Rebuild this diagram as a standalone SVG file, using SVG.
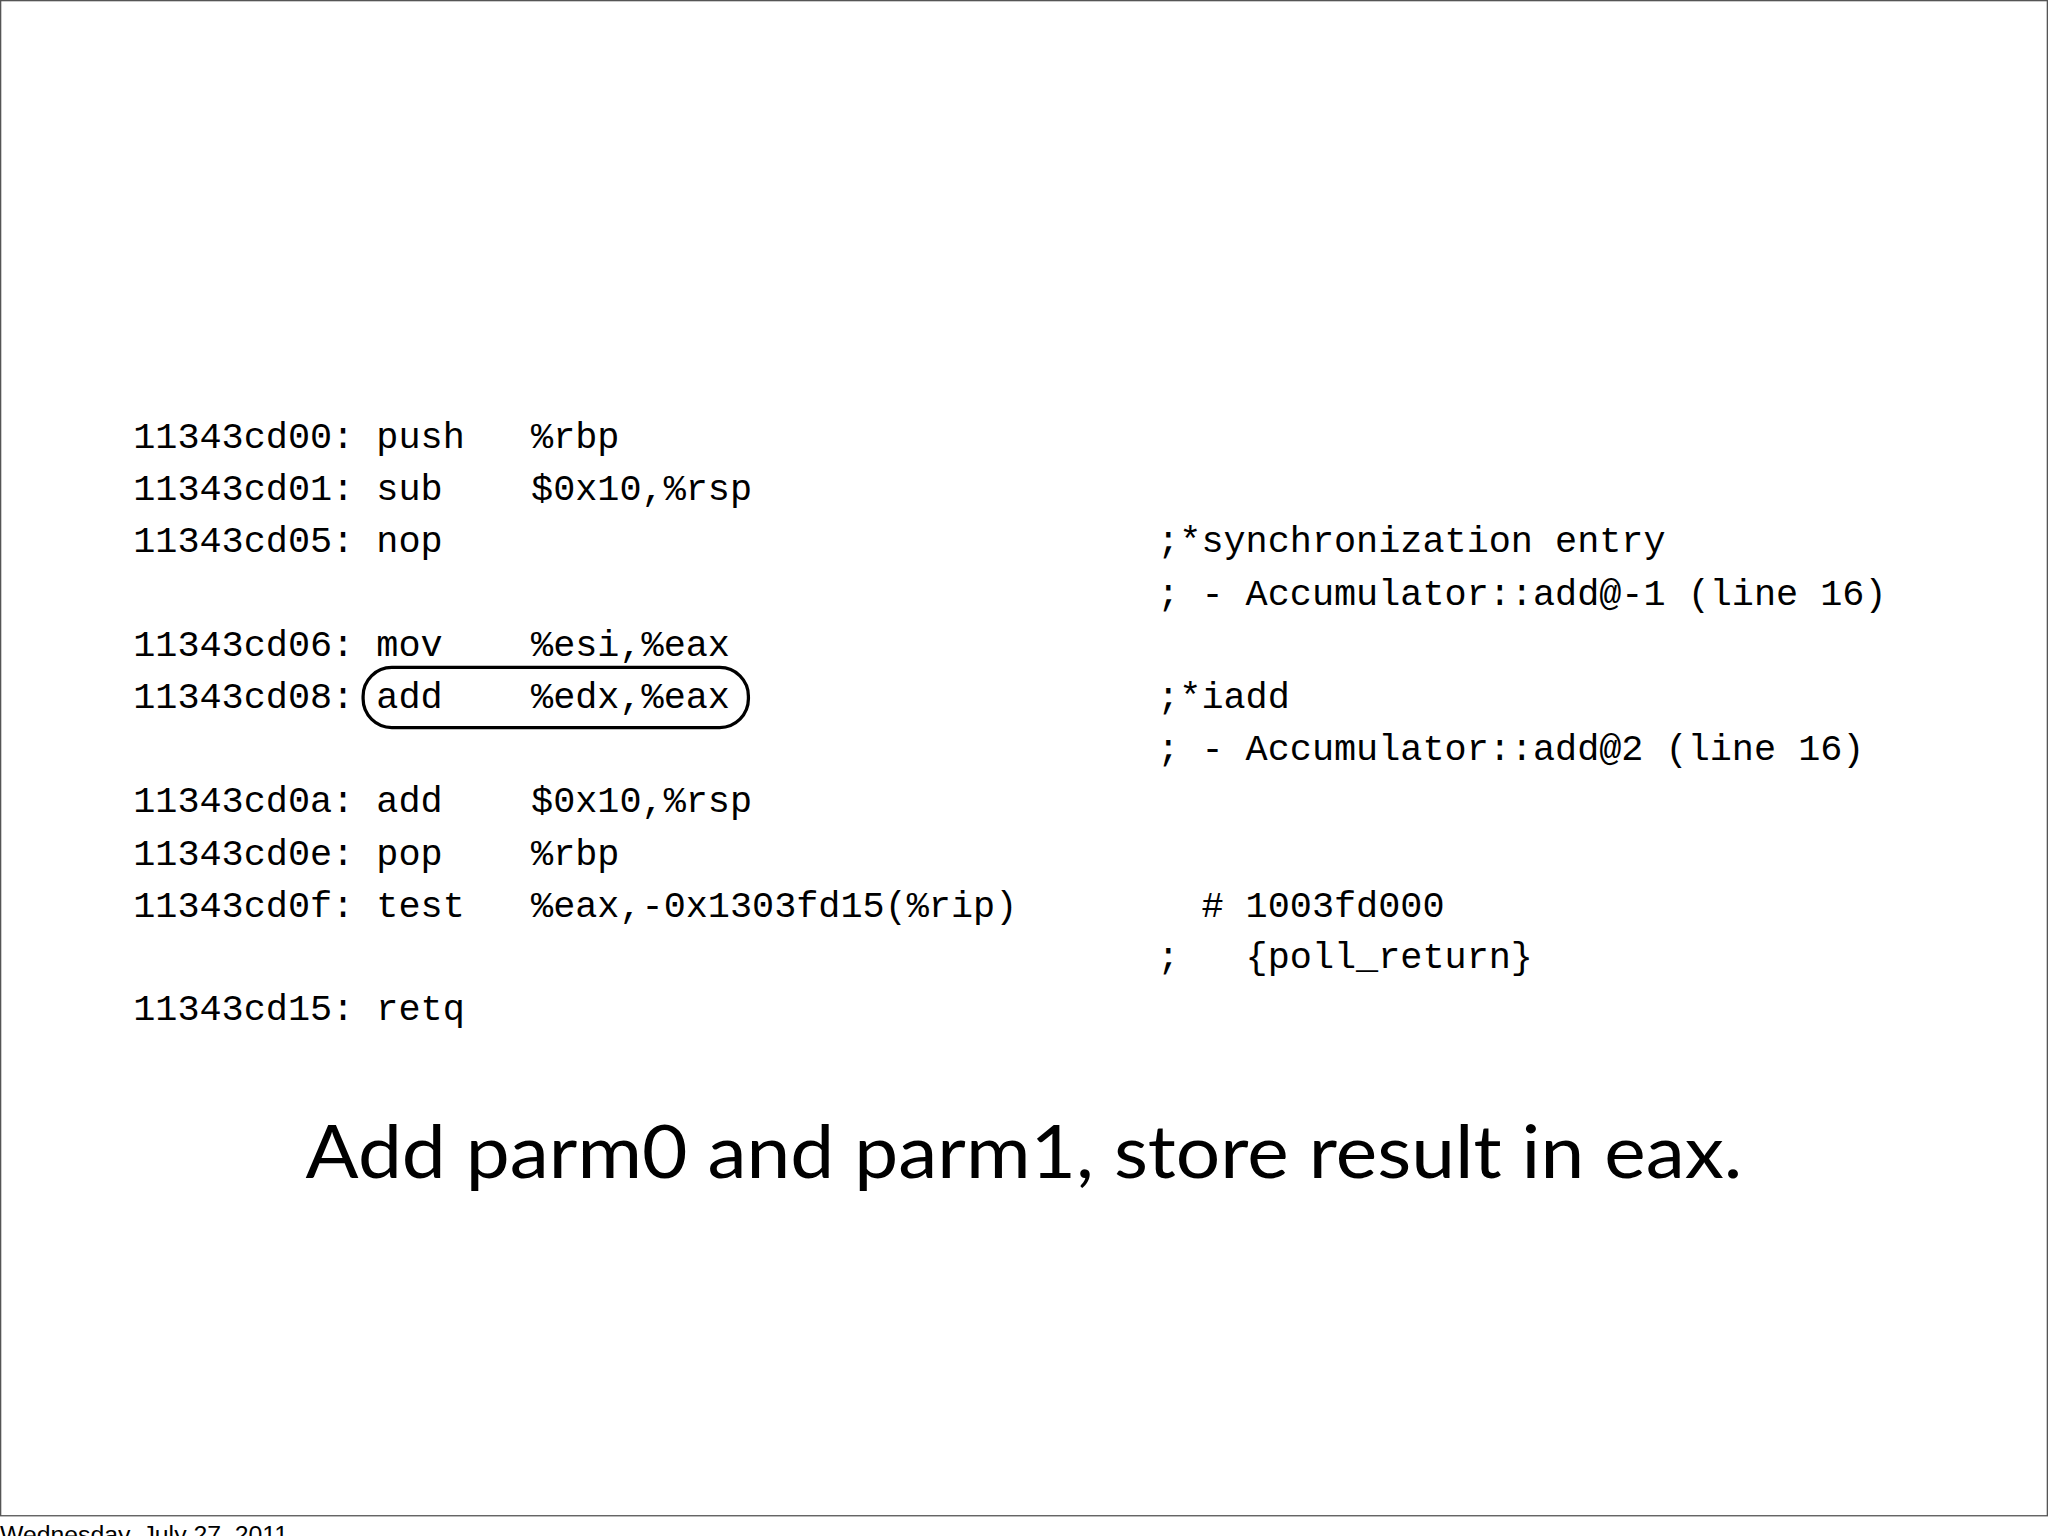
<svg xmlns="http://www.w3.org/2000/svg" width="2048" height="1536" viewBox="0 0 2048 1536">
<style>
.c{font-family:"Liberation Mono","DejaVu Sans Mono",monospace;font-size:28.2px;fill:#000;white-space:pre}
.cap{font-family:Lato,"Open Sans",sans-serif;font-size:56px;fill:#000}
</style>
<rect width="2048" height="1536" fill="#fff"/>
<g transform="scale(1.30612)">
<rect x="0.5" y="0.5" width="1567" height="1160" fill="none" stroke="#555" stroke-width="1"/>
<g id="code">
<text class="c" x="102" y="343" xml:space="preserve">11343cd00: push   %rbp</text>
<text class="c" x="102" y="383" xml:space="preserve">11343cd01: sub    $0x10,%rsp</text>
<text class="c" x="102" y="423" xml:space="preserve">11343cd05: nop</text>
<text class="c" x="102" y="502" xml:space="preserve">11343cd06: mov    %esi,%eax</text>
<text class="c" x="102" y="542" xml:space="preserve">11343cd08: add    %edx,%eax</text>
<text class="c" x="102" y="622" xml:space="preserve">11343cd0a: add    $0x10,%rsp</text>
<text class="c" x="102" y="662" xml:space="preserve">11343cd0e: pop    %rbp</text>
<text class="c" x="102" y="702" xml:space="preserve">11343cd0f: test   %eax,-0x1303fd15(%rip)</text>
<text class="c" x="102" y="781" xml:space="preserve">11343cd15: retq</text>
</g>
<g id="comments">
<text class="c" x="886" y="423" xml:space="preserve">;*synchronization entry</text>
<text class="c" x="886" y="463" xml:space="preserve">; - Accumulator::add@-1 (line 16)</text>
<text class="c" x="886" y="542" xml:space="preserve">;*iadd</text>
<text class="c" x="886" y="582" xml:space="preserve">; - Accumulator::add@2 (line 16)</text>
<text class="c" x="886" y="702" xml:space="preserve">  # 1003fd000</text>
<text class="c" x="886" y="741" xml:space="preserve">;   {poll_return}</text>
</g>
<g id="highlight">
<rect x="278" y="511" width="295" height="46" rx="22" fill="none" stroke="#000" stroke-width="2.5"/>
</g>
<text class="cap" x="784" y="902" text-anchor="middle" textLength="1100" lengthAdjust="spacingAndGlyphs">Add parm0 and parm1, store result in eax.</text>
<text x="0" y="1181" font-family="Liberation Sans,Arial,sans-serif" font-size="19" fill="#000">Wednesday, July 27, 2011</text>
</g>
</svg>
